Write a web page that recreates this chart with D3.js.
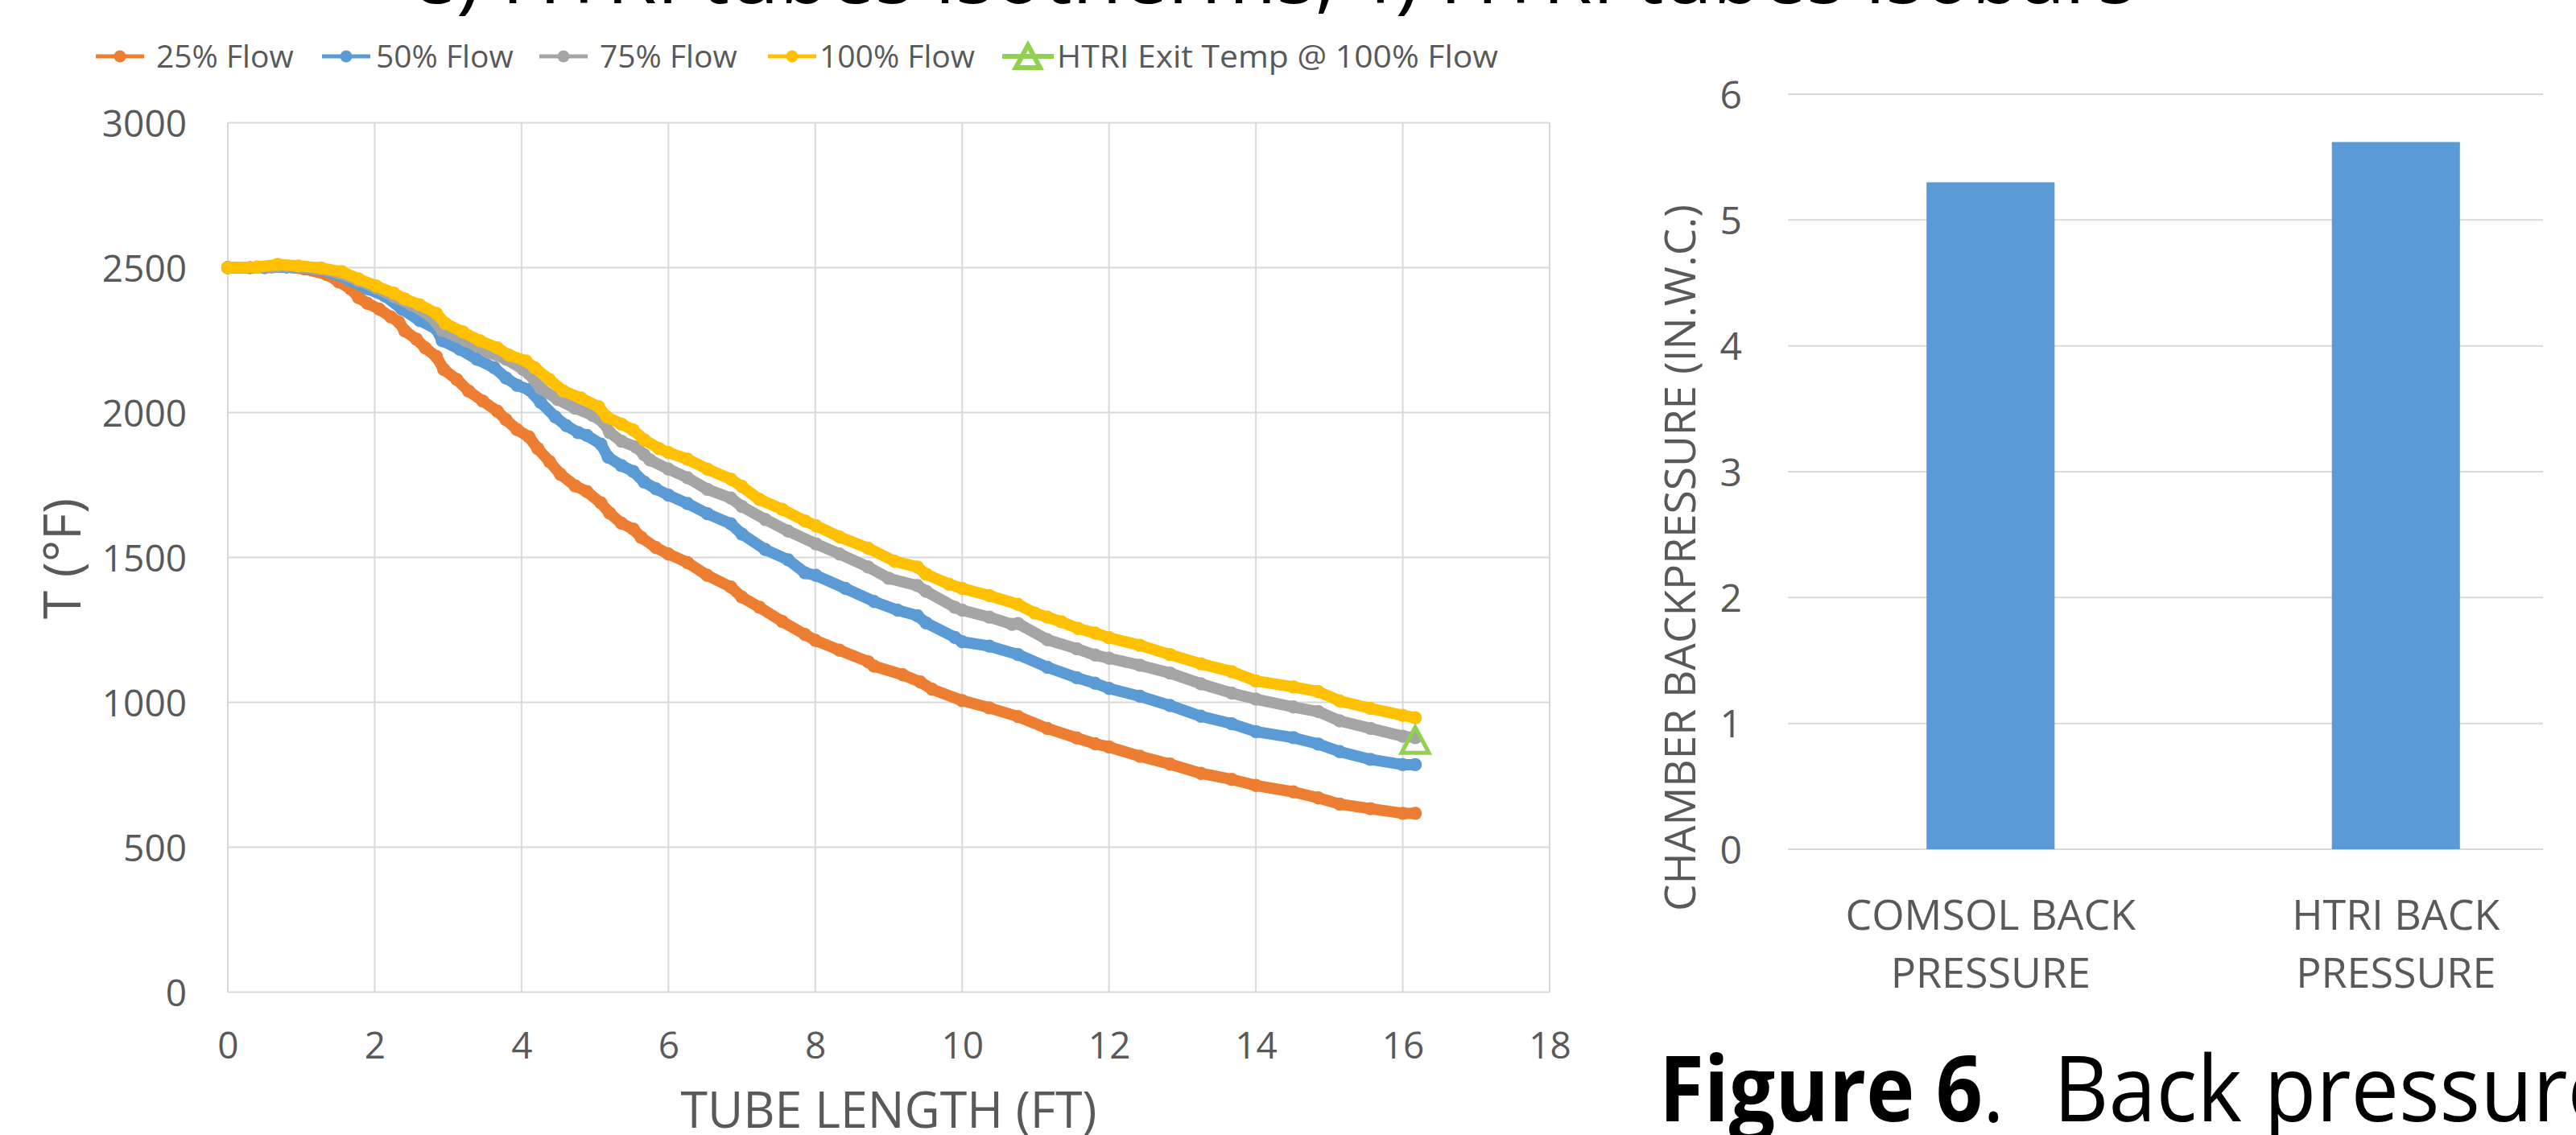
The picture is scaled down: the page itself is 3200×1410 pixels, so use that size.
<!DOCTYPE html>
<html><head><meta charset="utf-8">
<script src="https://cdn.jsdelivr.net/npm/d3@7"></script>
<style>body{margin:0;background:#fff}svg{display:block;background:#fff}text{font-family:"Open Sans",sans-serif}</style>
</head><body><svg id="c" width="3200" height="1410"></svg>
<script>
// ---------- DATA ----------
const seriesNames = ["25% Flow", "50% Flow", "75% Flow", "100% Flow"];
const htriName = "HTRI Exit Temp @ 100% Flow";

const flow25 = [[0,2500],[0.3,2500],[0.7,2505],[1.04,2496],[1.35,2476],[1.51,2451],[1.67,2427],[1.78,2397],[1.90,2377],[2.06,2357],[2.22,2330],[2.33,2312],[2.41,2282],[2.57,2253],[2.69,2223],[2.84,2193],[2.94,2149],[3.12,2114],[3.28,2074],[3.47,2040],[3.67,2005],[3.79,1975],[3.94,1941],[4.10,1916],[4.22,1876],[4.38,1831],[4.53,1787],[4.73,1747],[4.89,1727],[5.08,1688],[5.20,1653],[5.36,1618],[5.52,1598],[5.63,1569],[5.83,1534],[6.0,1512],[6.26,1482],[6.53,1438],[6.85,1398],[7.0,1363],[7.24,1328],[7.55,1279],[7.86,1234],[8.0,1214],[8.33,1180],[8.72,1140],[8.80,1125],[9.19,1095],[9.43,1070],[9.59,1045],[10.0,1006],[10.37,981],[10.76,951],[11.16,910],[11.56,877],[11.81,857],[12.0,846],[12.42,814],[12.83,787],[13.25,755],[13.67,734],[14.0,713],[14.51,691],[14.85,670],[15.14,649],[15.56,633],[16.0,617],[16.17,617]];

const flow50 = [[0,2500],[0.5,2500],[0.8,2502],[1.2,2495],[1.43,2481],[1.67,2456],[1.90,2427],[2.14,2402],[2.37,2357],[2.61,2318],[2.84,2288],[2.92,2248],[3.16,2218],[3.39,2184],[3.63,2154],[3.79,2119],[3.94,2094],[4.10,2079],[4.26,2035],[4.46,1985],[4.61,1955],[4.77,1931],[4.89,1921],[5.08,1891],[5.18,1846],[5.36,1817],[5.52,1797],[5.67,1760],[5.83,1737],[6.0,1715],[6.26,1686],[6.53,1651],[6.85,1616],[7.0,1581],[7.32,1527],[7.63,1492],[7.86,1447],[8.01,1438],[8.41,1393],[8.80,1348],[9.12,1318],[9.39,1299],[9.51,1274],[9.90,1224],[10.0,1209],[10.37,1194],[10.76,1165],[11.16,1121],[11.56,1085],[11.81,1066],[12.0,1048],[12.42,1021],[12.83,989],[13.25,952],[13.67,926],[14.0,899],[14.51,878],[14.85,856],[15.14,830],[15.56,803],[16.0,785],[16.17,785]];

const flow75 = [[0,2500],[0.6,2502],[0.8,2505],[1.2,2497],[1.5,2482],[1.78,2455],[2.02,2430],[2.26,2400],[2.5,2372],[2.75,2335],[2.92,2283],[3.24,2248],[3.55,2208],[3.79,2184],[4.02,2149],[4.10,2134],[4.26,2084],[4.49,2045],[4.73,2015],[4.97,1990],[5.12,1965],[5.20,1931],[5.36,1901],[5.56,1881],[5.67,1854],[5.75,1836],[6.0,1805],[6.26,1775],[6.53,1735],[6.85,1705],[7.0,1676],[7.32,1631],[7.63,1591],[8.01,1547],[8.33,1512],[8.72,1467],[9.0,1428],[9.39,1403],[9.51,1383],[9.90,1328],[10.0,1318],[10.37,1294],[10.68,1269],[10.76,1272],[11.16,1216],[11.56,1185],[11.81,1163],[12.0,1152],[12.42,1128],[12.83,1101],[13.25,1064],[13.67,1032],[14.0,1011],[14.51,984],[14.85,968],[15.14,936],[15.56,910],[16.0,883],[16.17,878]];

const flow100 = [[0,2500],[0.4,2502],[0.68,2511],[0.96,2506],[1.27,2499],[1.55,2486],[1.78,2461],[2.02,2437],[2.26,2412],[2.41,2392],[2.61,2372],[2.84,2342],[2.96,2308],[3.20,2278],[3.43,2248],[3.67,2223],[3.83,2198],[4.06,2178],[4.18,2154],[4.38,2114],[4.57,2074],[4.81,2050],[5.05,2020],[5.16,1985],[5.36,1960],[5.52,1940],[5.67,1906],[5.87,1876],[6.0,1862],[6.26,1839],[6.53,1805],[6.85,1770],[7.0,1745],[7.24,1700],[7.55,1666],[7.86,1626],[8.01,1609],[8.33,1571],[8.72,1532],[9.08,1487],[9.39,1467],[9.51,1442],[9.82,1408],[10.0,1393],[10.37,1368],[10.76,1338],[10.99,1308],[11.16,1294],[11.35,1278],[11.58,1255],[11.81,1239],[12.0,1223],[12.42,1197],[12.83,1165],[13.25,1133],[13.67,1106],[14.0,1074],[14.51,1053],[14.85,1037],[15.14,1005],[15.56,979],[16.0,955],[16.17,947]];

const htriExit = [[16.17, 870]];

const xTicks = [0, 2, 4, 6, 8, 10, 12, 14, 16, 18];
const tTicks = [0, 500, 1000, 1500, 2000, 2500, 3000];

const barCategories = [["COMSOL BACK", "PRESSURE"], ["HTRI BACK", "PRESSURE"]];
const barValues = [5.3, 5.62];
const pTicks = [0, 1, 2, 3, 4, 5, 6];

// ---------- STYLE ----------
const colors = ["#ed7d31", "#5b9bd5", "#a5a5a5", "#ffc000"];
const green = "#92d050";
const gridC = "#d9d9d9";
const txtC = "#595959";

const svg = d3.select("#c");

// ---------- top caption fragment (cut by the page edge) ----------
svg.append("text").attr("x", 510).attr("y", 4).attr("font-size", 100)
  .attr("textLength", 1150).attr("lengthAdjust", "spacingAndGlyphs")
  .attr("fill", "#000").text("e) HTRI tubes isotherms,");
svg.append("text").attr("x", 1700).attr("y", 4).attr("font-size", 100)
  .attr("textLength", 953).attr("lengthAdjust", "spacingAndGlyphs")
  .attr("fill", "#000").text("f) HTRI tubes isobars");

// ---------- LEFT CHART ----------
const L = {x0: 283, x1: 1925, y0: 1232.5, y1: 152.5};
const x = d3.scaleLinear().domain([0, 18]).range([L.x0, L.x1]);
const y = d3.scaleLinear().domain([0, 3000]).range([L.y0, L.y1]);

const gl = svg.append("g");
gl.selectAll("line.h").data(tTicks).join("line").attr("class", "h")
  .attr("x1", L.x0).attr("x2", L.x1).attr("y1", d => y(d)).attr("y2", d => y(d))
  .attr("stroke", gridC).attr("stroke-width", 2);
gl.selectAll("line.v").data(xTicks).join("line").attr("class", "v")
  .attr("x1", d => x(d)).attr("x2", d => x(d)).attr("y1", L.y1).attr("y2", L.y0)
  .attr("stroke", gridC).attr("stroke-width", 2);

const xAxis = svg.append("g").attr("transform", `translate(0,${L.y0})`)
  .call(d3.axisBottom(x).tickValues(xTicks).tickSize(0).tickFormat(d3.format("d")));
xAxis.attr("font-size", null).attr("font-family", null);
xAxis.select(".domain").remove();
xAxis.selectAll("text").attr("y", 82).attr("dy", 0).attr("fill", txtC).style("font-size", "46px");

const yAxis = svg.append("g").attr("transform", `translate(${L.x0},0)`)
  .call(d3.axisLeft(y).tickValues(tTicks).tickSize(0).tickPadding(51).tickFormat(d3.format("d")));
yAxis.attr("font-size", null).attr("font-family", null);
yAxis.select(".domain").remove();
yAxis.selectAll("text").attr("dy", "0.36em").attr("fill", txtC).style("font-size", "46px");

svg.append("text").attr("x", (L.x0 + L.x1) / 2).attr("y", 1401).attr("text-anchor", "middle")
  .attr("font-size", 63).attr("fill", txtC)
  .attr("textLength", 517).attr("lengthAdjust", "spacingAndGlyphs").text("TUBE LENGTH (FT)");
svg.append("text").attr("transform", "translate(100,694) rotate(-90)").attr("text-anchor", "middle")
  .attr("font-size", 64).attr("fill", txtC).text("T (°F)");

const allSeries = [flow25, flow50, flow75, flow100];
const line = d3.line().x(d => x(d[0])).y(d => y(d[1]));
allSeries.forEach((data, i) => {
  const g = svg.append("g");
  g.append("path").datum(data).attr("d", line).attr("fill", "none")
    .attr("stroke", colors[i]).attr("stroke-width", 14)
    .attr("stroke-linejoin", "round").attr("stroke-linecap", "round");
  g.selectAll("circle").data(data).join("circle")
    .attr("cx", d => x(d[0])).attr("cy", d => y(d[1])).attr("r", 8.2).attr("fill", colors[i]);
});

function triPath(w, h) { return `M0,${-h/2}L${w/2},${h/2}L${-w/2},${h/2}Z`; }
svg.append("g").selectAll("path").data(htriExit).join("path")
  .attr("transform", d => `translate(${x(d[0])},${y(d[1])})`)
  .attr("d", triPath(34, 32)).attr("fill", "none").attr("stroke", green).attr("stroke-width", 5);

// legend
const legItems = [
  {name: seriesNames[0], c: colors[0], lx: 119, tx: 194},
  {name: seriesNames[1], c: colors[1], lx: 400, tx: 467},
  {name: seriesNames[2], c: colors[2], lx: 670, tx: 745},
  {name: seriesNames[3], c: colors[3], lx: 954, tx: 1018}
];
const lg = svg.append("g");
legItems.forEach(it => {
  lg.append("line").attr("x1", it.lx).attr("x2", it.lx + 60).attr("y1", 70).attr("y2", 70)
    .attr("stroke", it.c).attr("stroke-width", 5);
  lg.append("circle").attr("cx", it.lx + 30).attr("cy", 70).attr("r", 7.5).attr("fill", it.c);
  lg.append("text").attr("x", it.tx).attr("y", 84).attr("font-size", 39).attr("fill", txtC).text(it.name);
});
lg.append("line").attr("x1", 1245).attr("x2", 1309).attr("y1", 70).attr("y2", 70)
  .attr("stroke", green).attr("stroke-width", 6);
lg.append("path").attr("transform", "translate(1277,70)").attr("d", triPath(30, 28))
  .attr("fill", "none").attr("stroke", green).attr("stroke-width", 6);
lg.append("text").attr("x", 1313).attr("y", 84).attr("font-size", 39).attr("fill", txtC)
  .attr("textLength", 548).attr("lengthAdjust", "spacingAndGlyphs").text(htriName);

// ---------- RIGHT CHART ----------
const R = {x0: 2221, x1: 3228, gx1: 3159, y0: 1055, y1: 117};
const catKeys = barCategories.map(c => c.join(" "));
const xb = d3.scaleBand().domain(catKeys).range([R.x0, R.x1]).paddingInner(0.684).paddingOuter(0.342);
const yb = d3.scaleLinear().domain([0, 6]).range([R.y0, R.y1]);

svg.append("g").selectAll("line").data(pTicks).join("line")
  .attr("x1", R.x0).attr("x2", R.gx1).attr("y1", d => yb(d)).attr("y2", d => yb(d))
  .attr("stroke", gridC).attr("stroke-width", 2);

const ybAxis = svg.append("g").attr("transform", `translate(${R.x0},0)`)
  .call(d3.axisLeft(yb).tickValues(pTicks).tickSize(0).tickPadding(57).tickFormat(d3.format("d")));
ybAxis.attr("font-size", null).attr("font-family", null);
ybAxis.select(".domain").remove();
ybAxis.selectAll("text").attr("dy", "0.36em").attr("fill", txtC).style("font-size", "48px");

svg.append("g").selectAll("rect").data(barValues).join("rect")
  .attr("x", (d, i) => xb(catKeys[i])).attr("width", xb.bandwidth())
  .attr("y", d => yb(d)).attr("height", d => yb(0) - yb(d)).attr("fill", "#5b9bd5");

const cl = svg.append("g");
barCategories.forEach((lines, i) => {
  const cx = xb(catKeys[i]) + xb.bandwidth() / 2;
  lines.forEach((t, j) => {
    cl.append("text").attr("x", cx).attr("y", 1155 + j * 72).attr("text-anchor", "middle")
      .attr("font-size", 52).attr("fill", txtC).text(t);
  });
});

svg.append("text").attr("transform", "translate(2106,693) rotate(-90)").attr("text-anchor", "middle")
  .attr("font-size", 53).attr("fill", txtC)
  .attr("textLength", 878).attr("lengthAdjust", "spacingAndGlyphs")
  .text("CHAMBER BACKPRESSURE (IN.W.C.)");

// ---------- figure caption (cut by the page edge) ----------
const cap = svg.append("text").attr("transform", "translate(2061,1393) scale(0.9,1)")
  .attr("font-size", 113).attr("fill", "#000");
cap.append("tspan").attr("font-weight", 700).text("Figure 6");
cap.append("tspan").text(".");
svg.append("text").attr("x", 2551).attr("y", 1393).attr("font-size", 113).attr("fill", "#000")
  .attr("textLength", 698).attr("lengthAdjust", "spacingAndGlyphs").text("Back pressure");
</script>
</body></html>
